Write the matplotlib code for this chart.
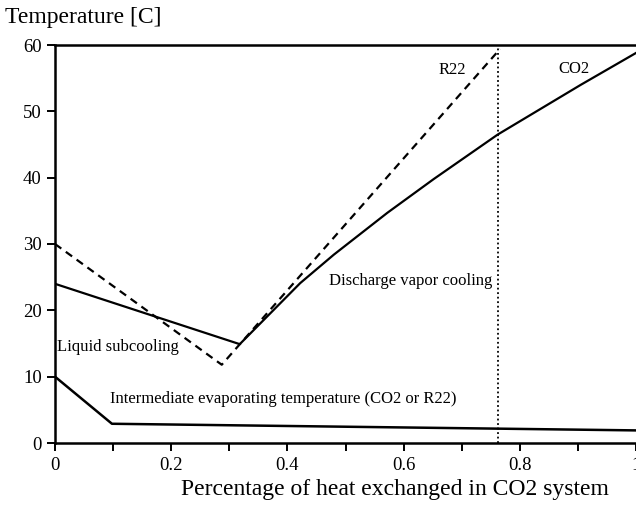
import matplotlib
matplotlib.use("Agg")
import matplotlib.pyplot as plt
from matplotlib.ticker import MultipleLocator

plt.rcParams['font.family'] = ['Liberation Serif', 'DejaVu Serif']

# CO2 gas cooler temperature
co2_x = [0, 0.318, 0.422, 0.48, 0.572, 0.652, 0.762, 0.905, 1.0]
co2_y = [24, 14.9, 24.1, 28.4, 34.7, 39.8, 46.5, 54.0, 58.8]

# R22 condenser temperature
r22_x = [0, 0.287, 0.766]
r22_y = [30, 11.8, 59.4]

# intermediate evaporating temperature
evap_x = [0, 0.098, 1.0]
evap_y = [10, 2.9, 1.9]

# end of R22 heat exchange
split_x = 0.762

fig = plt.figure(figsize=(6.36, 5.05), dpi=100)
ax = fig.add_axes([55/636, 62/505, 581/636, 398/505])

ax.plot(co2_x, co2_y, color="black", lw=1.6)
ax.plot(r22_x, r22_y, color="black", lw=1.6, ls=(0, (3.5, 2.5)))
ax.plot(evap_x, evap_y, color="black", lw=1.8)
ax.plot([split_x, split_x], [0, 60], color="black", lw=1.3, ls=(0, (1, 1.5)))

ax.set_xlim(0, 1)
ax.set_ylim(0, 60)
ax.xaxis.set_minor_locator(MultipleLocator(0.1))
ax.yaxis.set_major_locator(MultipleLocator(10))
ax.set_xticks([0, 0.2, 0.4, 0.6, 0.8, 1.0])
ax.set_xticklabels(["0", "0.2", "0.4", "0.6", "0.8", "1"])
ax.tick_params(axis="both", which="both", direction="out", length=6, width=1.4, labelsize=13.5)
ax.tick_params(axis="x", which="major", pad=4)

for s in ["left", "bottom", "top"]:
    ax.spines[s].set_linewidth(1.8)
ax.spines["right"].set_visible(False)

# labels
ax.text(0.684, 56.3, "R22", ha="center", va="center", fontsize=12)
ax.text(0.893, 56.4, "CO2", ha="center", va="center", fontsize=12)
ax.text(0.753, 24.4, "Discharge vapor cooling", ha="right", va="center", fontsize=12)
ax.text(0.004, 14.5, "Liquid subcooling", ha="left", va="center", fontsize=12)
ax.text(0.095, 6.6, "Intermediate evaporating temperature (CO2 or R22)",
        ha="left", va="center", fontsize=12)

fig.text(5/636, 1 - 18/505, "Temperature [C]", ha="left", va="center", fontsize=17)
fig.text(395/636, 1 - 489/505, "Percentage of heat exchanged in CO2 system",
         ha="center", va="center", fontsize=17)

fig.savefig("out.png", dpi=100)
